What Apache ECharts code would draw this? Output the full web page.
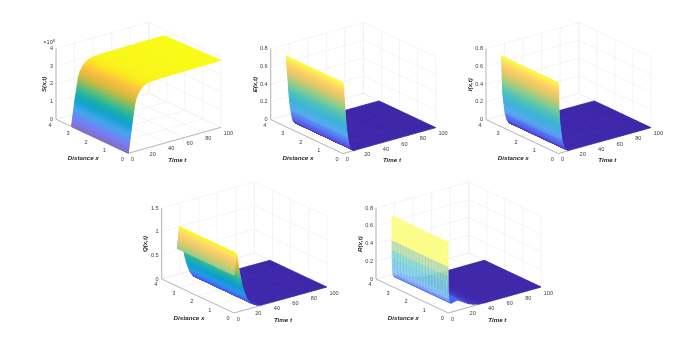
<!DOCTYPE html>
<html><head><meta charset="utf-8">
<style>html,body{margin:0;padding:0;background:#fff}#c{width:696px;height:338px;filter:blur(0.3px)}</style>
<script src="https://cdn.jsdelivr.net/npm/echarts@6/dist/echarts.min.js"></script>
</head><body><div id="c"></div>
<script>
// Data: each profile is z against time t
const sTimes = [0,1,2,3.6,5,7.2,9,12.6,16,19.8,30,50,75,100];
const sValues = [0,0.42,0.82,1.45,1.95,2.71,3.05,3.38,3.55,3.66,3.72,3.74,3.76,3.77];
const eTimes = [0,0.5,1,2.2,3,4,5,6,7.5,9,11,13,100];
const eValues = [0.80,0.72,0.64,0.485,0.36,0.255,0.17,0.11,0.045,0.025,0.008,0.002,0];
const iTimes = [0,0.4,0.8,1.5,2.5,4,6,8,11,100];
const iValues = [0.80,0.65,0.49,0.36,0.26,0.14,0.06,0.025,0.005,0];
const qTimes = [0,0.5,1,1.5,2,2.8,4,6,8.3,11,13.7,17,21,25,30,100];
const qValues = [0.80,0.90,1.00,1.10,1.18,1.24,1.08,0.82,0.58,0.38,0.234,0.13,0.076,0.03,0.008,0];
const rTimes = [0,0.1,0.2,0.3,0.4,0.5,0.7,1,1.5,2,3,5,7,10,14,18,22,27,33,40,100];
const rValues = [0.80,0.52,0.41,0.33,0.27,0.22,0.18,0.15,0.12,0.11,0.10,0.105,0.112,0.116,0.09,0.065,0.04,0.02,0.005,0,0];
const xTicks = [0,1,2,3,4];
const tTicks = [0,20,40,60,80,100];
const sTicks = [0,1,2,3,4];
const eTicks = [0,0.2,0.4,0.6,0.8];
const iTicks = [0,0.2,0.4,0.6,0.8];
const qTicks = [0,0.5,1,1.5];
const rTicks = [0,0.2,0.4,0.6,0.8];
const zTitles = ['S(x,t)','E(x,t)','I(x,t)','Q(x,t)','R(x,t)'];
const xExtent = 3.14;

// Layout
const parula = [[0,62,38,168],[.11,72,82,244],[.25,39,150,235],[.37,7,156,207],[.5,26,177,163],[.62,100,190,113],[.75,205,185,60],[.87,253,190,60],[1,249,251,21]];
const panels = [
 {ts:sTimes,zs:sValues,ticks:sTicks,left:56,bottom:119.3,title:zTitles[0],titleDx:-11.7,rise:.34,fall:0,stripe:0,sub:6,edge:.97,lowOnly:1,cols:10,lw:1},
 {ts:eTimes,zs:eValues,ticks:eTicks,left:270.7,bottom:119.6,title:zTitles[1],titleDx:-15.7,rise:0,fall:.22,stripe:0,sub:6,edge:1,cols:4,lw:1},
 {ts:iTimes,zs:iValues,ticks:iTicks,left:486,bottom:119.6,title:zTitles[2],titleDx:-16,rise:0,fall:.22,stripe:0,sub:6,edge:1,cols:4,lw:1},
 {ts:qTimes,zs:qValues,ticks:qTicks,left:161.7,bottom:279,title:zTitles[3],titleDx:-16,rise:.25,fall:.03,stripe:0,sub:6,edge:1,cols:4,lw:1},
 {ts:rTimes,zs:rValues,ticks:rTicks,left:376,bottom:279,title:zTitles[4],titleDx:-16,rise:0,fall:.42,stripe:.1,sub:1,edge:1,cols:36,lw:.3}
];

function colour(f, fade){
  f = Math.max(0,Math.min(1,f));
  let i = 0; while(i < parula.length-2 && f > parula[i+1][0]) i++;
  const a = parula[i], b = parula[i+1], k = (f-a[0])/(b[0]-a[0]);
  const c = [1,2,3].map(j => Math.round((a[j]+(b[j]-a[j])*k)*(1-fade)+255*fade));
  return 'rgb('+c.join(',')+')';
}
function project(p, x, t, z){
  const zMax = p.ticks[p.ticks.length-1];
  return [p.left+(4-x)/4*72.3+t/100*92.7, p.bottom+(4-x)/4*34-t/100*26-z/zMax*71];
}

const series = [];
panels.forEach(p => {
  const zMax = p.ticks[p.ticks.length-1], top = Math.max(...p.zs);
  const lines = [];
  const add = (a,b,c)=>lines.push([...project(p,...a),...project(p,...b),c]);
  xTicks.forEach(x=>{add([x,0,0],[x,100,0],0); add([x,100,0],[x,100,zMax],0);});
  tTicks.forEach(t=>{add([0,t,0],[4,t,0],0); add([4,t,0],[4,t,zMax],0);});
  p.ticks.forEach(z=>{add([4,0,z],[4,100,z],0); add([0,100,z],[4,100,z],0);});
  add([4,0,0],[4,0,zMax],1); add([4,0,0],[0,0,0],1); add([0,0,0],[0,100,0],1);
  series.push({type:'custom',coordinateSystem:'cartesian2d',silent:true,animation:false,clip:false,z:1,data:lines,
    renderItem:(ps,api)=>{
      const a=api.coord([api.value(0),api.value(1)]), b=api.coord([api.value(2),api.value(3)]), k=api.value(4);
      return {type:'line',shape:{x1:a[0],y1:a[1],x2:b[0],y2:b[1]},style:{stroke:k?'#8c8c8c':'#ececec',lineWidth:0.6}};
    }});
  // surface, far faces first
  const faces = [], fills = [], widths = [];
  for(let i=p.ts.length-2;i>=0;i--){
    const t0=p.ts[i],t1=p.ts[i+1],z0=p.zs[i],z1=p.zs[i+1];
    const slope=Math.abs(z1-z0)/(t1-t0)/top;
    const strength=z1>z0?p.rise:p.fall;
    const n=Math.abs(z1-z0)>0.002*top?p.sub:1;
    for(let s=n-1;s>=0;s--){
      const ta=t0+(t1-t0)*s/n,tb=t0+(t1-t0)*(s+1)/n,za=z0+(z1-z0)*s/n,zb=z0+(z1-z0)*(s+1)/n;
      const level=(p.sub===1?Math.max(za,zb):(za+zb)/2)/top;
      let fade=strength*Math.min(1,slope/0.11);
      if(p.lowOnly) fade*=Math.max(0,1-level*2.2);
      const low=Math.max(za,zb)<0.004*top;
      for(let c=p.cols-1;c>=0;c--){
        const xa=xExtent*c/p.cols,xb=xExtent*(c+1)/p.cols;
        const ea=1+(p.edge-1)*xa/xExtent,eb=1+(p.edge-1)*xb/xExtent;
        const q=[project(p,xa,ta,za*ea),project(p,xb,ta,za*eb),project(p,xb,tb,zb*eb),project(p,xa,tb,zb*ea)];
        faces.push(q.flat());
        const fd=low?0:Math.min(0.85,fade+(c%2&&fade>0.02?p.stripe:0));
        fills.push(colour(level,fd));
        widths.push(fd<0.02?0.8:p.lw);
      }
    }
  }
  series.push({type:'custom',coordinateSystem:'cartesian2d',silent:true,animation:false,clip:false,z:2,data:faces,
    renderItem:(ps,api)=>{
      const pts=[0,2,4,6].map(j=>api.coord([api.value(j),api.value(j+1)]));
      const f=fills[ps.dataIndex];
      return {type:'polygon',shape:{points:pts},style:{fill:f,stroke:f,lineWidth:widths[ps.dataIndex]}};
    }});
  const labels=[];
  const fmt=v=>String(v);
  p.ticks.forEach(z=>{const q=project(p,4,0,z);labels.push({s:fmt(z),x:q[0]-3,y:q[1],al:'right'});});
  xTicks.forEach(x=>{const q=project(p,x,0,0);labels.push({s:fmt(x),x:q[0]-6,y:q[1]+5.7,al:'center'});});
  tTicks.forEach(t=>{const q=project(p,0,t,0);labels.push({s:fmt(t),x:q[0]+2.7,y:q[1]+6,al:'left'});});
  labels.push({s:'Distance x',x:p.left+27.3,y:p.bottom+39,al:'center',b:1});
  labels.push({s:'Time t',x:p.left+121.3,y:p.bottom+41,al:'center',b:1});
  labels.push({s:p.title,x:p.left+p.titleDx,y:p.bottom-35,al:'center',b:1,r:Math.PI/2});
  if(p.ticks===sTicks) labels.push({s:'×10{u|8}',x:p.left-1,y:p.bottom-77,al:'right',rich:1});
  series.push({type:'custom',coordinateSystem:'cartesian2d',silent:true,animation:false,clip:false,z:3,
    data:labels.map(l=>[l.x,l.y]),
    renderItem:(ps,api)=>{
      const l=labels[ps.dataIndex], q=api.coord([api.value(0),api.value(1)]);
      const style={text:l.s,fill:l.b?'#262626':'#404040',align:l.al,verticalAlign:'middle',
        font:(l.b?'italic bold 6.2px':'5.6px')+' "Liberation Sans", Arial, sans-serif'};
      if(l.rich) style.rich={u:{fontSize:4,verticalAlign:'top',fill:'#404040',padding:[0,0,3,0],fontFamily:'Liberation Sans'}};
      return {type:'text',x:q[0],y:q[1],rotation:l.r||0,style};
    }});
});

const chart = echarts.init(document.getElementById('c'));
chart.setOption({
  animation:false,backgroundColor:'#fff',
  grid:{left:0,right:0,top:0,bottom:0},
  xAxis:{type:'value',min:0,max:696,show:false},
  yAxis:{type:'value',min:0,max:338,inverse:true,show:false},
  series
});
</script></body></html>
